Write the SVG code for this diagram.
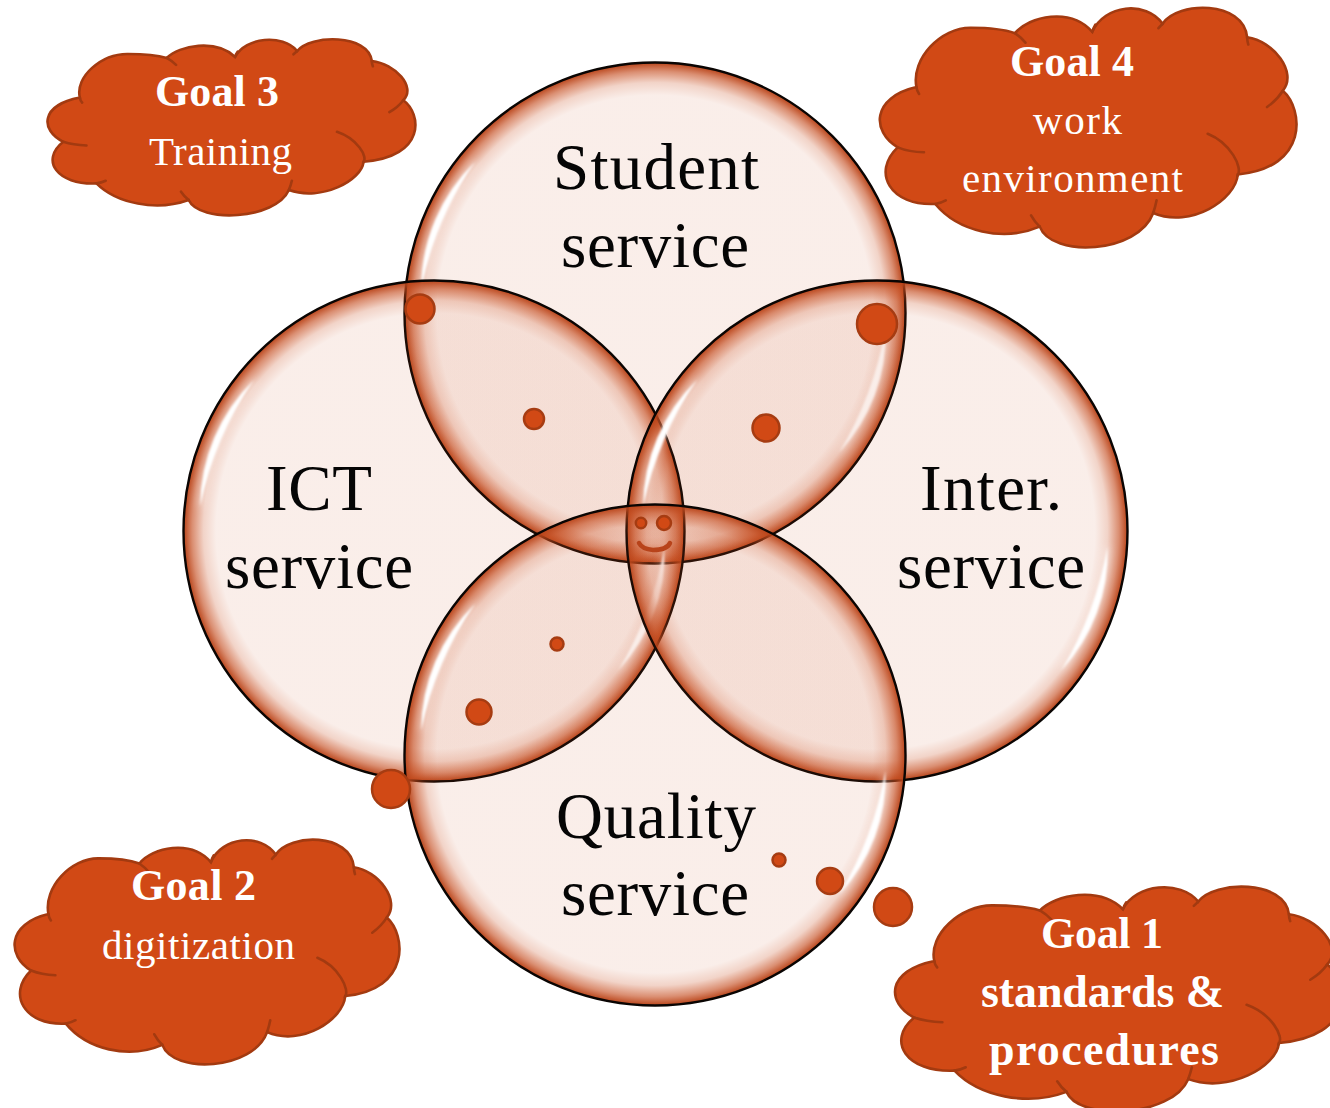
<svg xmlns="http://www.w3.org/2000/svg" width="1330" height="1108" viewBox="0 0 1330 1108">
<style>
.big{font-family:"Liberation Serif","Noto Serif",serif;font-size:65px;fill:#050505}
.t{font-family:"Liberation Serif",serif;font-size:41px;fill:#fff}
.b{font-weight:bold;font-size:44px}
.b2{font-weight:bold;font-size:46px}
.dot{fill:#D14915;stroke:#A63C12;stroke-width:2.5}
.cl{fill:#D14915;stroke:#A33A10;stroke-width:2.6;vector-effect:non-scaling-stroke;stroke-linecap:round}
.tail{fill:none;stroke:#A33A10;stroke-width:2.6;vector-effect:non-scaling-stroke;stroke-linecap:round}
</style>
<defs>
<radialGradient id="rim" cx="0.5" cy="0.5" r="0.5">
<stop offset="0" stop-color="#C84A1A" stop-opacity=".095"/>
<stop offset=".87" stop-color="#C84A1A" stop-opacity=".095"/>
<stop offset=".92" stop-color="#C84A1A" stop-opacity=".24"/>
<stop offset=".965" stop-color="#C44A1C" stop-opacity=".62"/>
<stop offset="1" stop-color="#B8441A" stop-opacity="1"/>
</radialGradient>
<filter id="soft" x="-30%" y="-30%" width="160%" height="160%"><feGaussianBlur stdDeviation="1.1"/></filter>
<filter id="softer" x="-30%" y="-30%" width="160%" height="160%"><feGaussianBlur stdDeviation="4"/></filter>
<g id="bubble">
<circle r="250.5" fill="url(#rim)" stroke="#0a0503" stroke-width="2.4"/>
<path d="M-233.7 -24.6A215 215 0 0 1 -180 -151A270 270 0 0 0 -233.7 -24.6Z" fill="#fff" stroke="#fff" stroke-width="5" opacity=".4" filter="url(#softer)"/>
<path d="M-233.7 -24.6A177 177 0 0 1 -180 -151A348 348 0 0 0 -233.7 -24.6Z" fill="#fff" filter="url(#soft)"/>
<path d="M230.4 16A215 215 0 0 1 184.5 139A270 270 0 0 0 230.4 16Z" fill="#fff" stroke="#fff" stroke-width="5" opacity=".4" filter="url(#softer)"/>
<path d="M230.4 16A172 172 0 0 1 184.5 139A362 362 0 0 0 230.4 16Z" fill="#fff" filter="url(#soft)"/>
</g>
<g id="cloud">
<path class="cl" d="M150 232C135 170 215 100 295 101C340 101 385 105 412 113C450 75 560 55 618 110C650 50 760 40 805 92C845 42 1020 40 1030 122C1100 130 1165 200 1125 240C1180 280 1195 410 1005 425C1000 480 880 545 780 510C740 600 510 610 478 540C380 575 260 550 200 490C80 495 30 420 100 365C30 330 30 255 150 232Z"/>
<path class="tail" d="M412 113Q428 122 440 134M618 110Q620 102 626 94M805 92L794 102M1030 122Q1030 130 1033 138M1125 240Q1110 260 1083 276M925 335C985 355 1020 410 1004 428M780 510Q786 495 789 482M478 540Q465 530 455 515M200 490Q215 488 228 482M100 365Q130 375 170 376M150 232Q151 240 157 247"/>
</g>
</defs>

<g id="student"><use href="#bubble" x="655" y="313"/></g>
<g id="ict"><use href="#bubble" x="434" y="531"/></g>
<g id="inter"><use href="#bubble" x="877" y="531"/></g>
<g id="quality"><use href="#bubble" x="655" y="755"/></g>

<text class="big" x="553" y="189" textLength="206">Student</text>
<text class="big" x="561" y="267" textLength="188">service</text>
<text class="big" x="266" y="510" textLength="106">ICT</text>
<text class="big" x="225" y="588" textLength="188">service</text>
<text class="big" x="920" y="510" textLength="142">Inter.</text>
<text class="big" x="897" y="588" textLength="188">service</text>
<text class="big" x="556" y="838" textLength="200">Quality</text>
<text class="big" x="561" y="915" textLength="188">service</text>

<g id="connectors">
<circle class="dot" cx="420" cy="309" r="14.5"/>
<circle class="dot" cx="877" cy="324" r="20"/>
<circle class="dot" cx="534" cy="419" r="10"/>
<circle class="dot" cx="766" cy="428" r="13.5"/>
<circle class="dot" cx="557" cy="644" r="6.5"/>
<circle class="dot" cx="479" cy="712" r="12.5"/>
<circle class="dot" cx="391" cy="789" r="19"/>
<circle class="dot" cx="779" cy="860" r="6.5"/>
<circle class="dot" cx="830" cy="881" r="13"/>
<circle class="dot" cx="893" cy="907" r="19"/>
</g>
<g id="smile">
<circle class="dot" cx="641" cy="523" r="5.2"/>
<circle class="dot" cx="664" cy="523" r="7"/>
<path d="M639 543Q642 549 653 550Q667 550 670 543" fill="none" stroke="#B8431A" stroke-width="4.5" stroke-linecap="round"/>
</g>

<g id="goal3">
<use href="#cloud" transform="translate(45 38) scale(.3318 .3327) translate(-45 -53)"/>
<text class="t b" x="155" y="106" textLength="124">Goal 3</text>
<text class="t" x="149" y="165" textLength="143">Training</text>
</g>
<g id="goal4">
<use href="#cloud" transform="translate(877 6) scale(.3758 .453) translate(-45 -53)"/>
<text class="t b" x="1010" y="76" textLength="124">Goal 4</text>
<text class="t" x="1033" y="134" textLength="89">work</text>
<text class="t" x="962" y="192" textLength="221">environment</text>
</g>
<g id="goal2">
<use href="#cloud" transform="translate(12 838) scale(.3471 .4248) translate(-45 -53)"/>
<text class="t b" x="131" y="900" textLength="125">Goal 2</text>
<text class="t" x="102" y="959" textLength="193">digitization</text>
</g>
<g id="goal1">
<use href="#cloud" transform="translate(892 885) scale(.403 .4248) translate(-45 -53)"/>
<text class="t b" x="1041" y="948" textLength="122">Goal 1</text>
<text class="t b2" x="981" y="1007" textLength="243">standards &amp;</text>
<text class="t b2" x="989" y="1065" textLength="230">procedures</text>
</g>
</svg>
